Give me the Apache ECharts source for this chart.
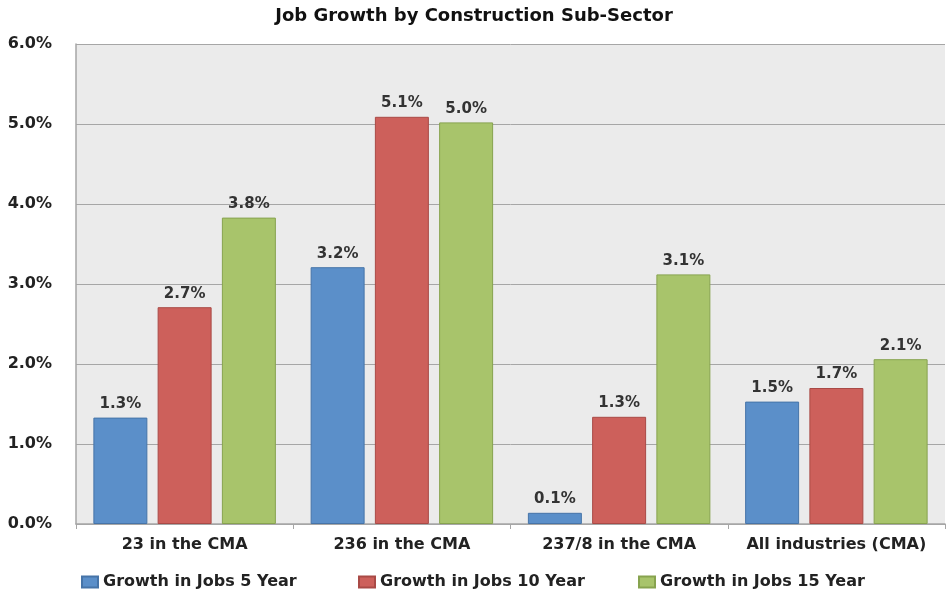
<!DOCTYPE html>
<html>
<head>
<meta charset="utf-8">
<script src="https://cdn.jsdelivr.net/npm/echarts@6/dist/echarts.min.js"></script>
<style>
  html, body { margin: 0; padding: 0; background: #fff; }
  #chart { width: 948px; height: 593px; }
</style>
</head>
<body>
<div id="chart"></div>
<script>
  // data
  var categories = ['23 in the CMA', '236 in the CMA', '237/8 in the CMA', 'All industries (CMA)'];
  var seriesNames = ['Growth in Jobs 5 Year', 'Growth in Jobs 10 Year', 'Growth in Jobs 15 Year'];
  var jobs5 = [1.33, 3.21, 0.14, 1.53];
  var jobs10 = [2.71, 5.09, 1.34, 1.70];
  var jobs15 = [3.83, 5.02, 3.12, 2.06];
  var yTicks = [0, 1, 2, 3, 4, 5, 6];

  var colors = ['#5b8fc9', '#cd605b', '#a8c46b'];
  var borders = ['#4674a8', '#a94a46', '#87a34f'];
  var legendLeft = [76, 353, 633];
  var font = 'DejaVu Sans';

  function makeSeries(i, values) {
    return {
      name: seriesNames[i],
      type: 'bar',
      data: values,
      barGap: '19%',
      barCategoryGap: '16%',
      itemStyle: { color: colors[i], borderColor: borders[i], borderWidth: 1 },
      label: {
        show: true,
        position: 'top',
        distance: 6,
        color: '#333',
        fontFamily: font,
        fontWeight: 'bold',
        fontSize: 15,
        formatter: function (p) { return p.value.toFixed(1) + '%'; }
      }
    };
  }

  // one legend per series so each entry sits where it does in the picture
  var legends = seriesNames.map(function (name, i) {
    return {
      top: 569,
      left: legendLeft[i],
      itemWidth: 16,
      itemHeight: 11,
      icon: 'rect',
      textStyle: { fontFamily: font, fontWeight: 'bold', fontSize: 16, color: '#222' },
      data: [name]
    };
  });

  var chart = echarts.init(document.getElementById('chart'));
  chart.setOption({
    animation: false,
    title: {
      text: 'Job Growth by Construction Sub-Sector',
      left: 'center',
      top: 2,
      textStyle: { fontFamily: font, fontWeight: 'bold', fontSize: 18, color: '#111' }
    },
    legend: legends,
    grid: { left: 76, right: 3, top: 44, bottom: 69, show: true, backgroundColor: '#ebebeb', borderWidth: 0 },
    xAxis: {
      type: 'category',
      data: categories,
      axisLine: { lineStyle: { color: '#a6a6a6', width: 1.5 } },
      axisTick: { show: true, length: 5, lineStyle: { color: '#a6a6a6' } },
      axisLabel: { interval: 0, margin: 13, color: '#222', fontFamily: font, fontWeight: 'bold', fontSize: 16 }
    },
    yAxis: {
      type: 'value',
      min: 0,
      max: 6,
      interval: 1,
      axisLine: { show: true, lineStyle: { color: '#a6a6a6', width: 1.5 } },
      axisTick: { show: false },
      splitLine: { lineStyle: { color: '#a6a6a6', width: 1 } },
      axisLabel: {
        margin: 24,
        color: '#222',
        fontFamily: font,
        fontWeight: 'bold',
        fontSize: 16,
        formatter: function (v) { return yTicks.indexOf(v) >= 0 ? v.toFixed(1) + '%' : ''; }
      }
    },
    series: [makeSeries(0, jobs5), makeSeries(1, jobs10), makeSeries(2, jobs15)]
  });
</script>
</body>
</html>
